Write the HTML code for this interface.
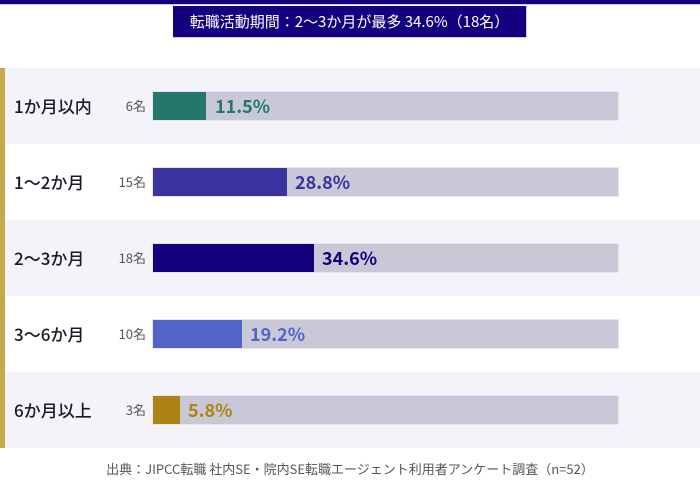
<!DOCTYPE html>
<html>
<head>
<meta charset="utf-8">
<style>
  html, body { margin:0; padding:0; }
  body { width:700px; height:498px; position:relative; background:#ffffff; overflow:hidden;
         font-family: "Liberation Sans", "Noto Sans CJK JP", sans-serif; }
  .topbar { position:absolute; left:0; top:0; width:700px; height:4px; background:#14007e; }
  .topline { position:absolute; left:0; top:4px; width:700px; height:1px; background:#c9c9e2; }
  .title { position:absolute; left:173px; top:6px; width:353px; height:31px; background:#14007e;
           border-right:1px solid #c9c9e2; border-bottom:1px solid #c9c9e2;
           color:#fff; font-size:15px; line-height:31px; text-align:center;
           font-family: "Noto Sans CJK JP", sans-serif; }
  .row { position:absolute; left:0; width:700px; height:76px; }
  .row.alt { background:#f3f3f9; }
  .gold { position:absolute; left:0; top:68px; width:5px; height:380px; background:#c9a84c; }
  .label { position:absolute; left:14px; top:0; height:76px; line-height:76px; font-size:17px; color:#1a1a2a;
           font-family: "Noto Sans CJK JP", sans-serif; font-weight:500; }
  .count { position:absolute; right:554px; top:0; height:76px; line-height:76px; font-size:13px; color:#555;
           font-family: "Noto Sans CJK JP", sans-serif; }
  .track { position:absolute; left:153px; top:24px; width:465px; height:28px; background:#c8c8d6;
           box-shadow: 0 0 0 1px #e6e6f0; }
  .bar { position:absolute; left:153px; top:24px; height:28px; }
  .pct { position:absolute; top:0; height:76px; line-height:76px; font-size:18px; font-weight:700;
         font-family: "Noto Sans CJK JP", sans-serif; }
  .foot { position:absolute; left:0; top:458px; width:700px; text-align:center; font-size:13px; color:#555;
          line-height:22px; font-family: "Noto Sans CJK JP", sans-serif; }
</style>
</head>
<body>
<div class="topbar"></div>
<div class="topline"></div>
<div class="title">転職活動期間：2〜3か月が最多 34.6%（18名）</div>

<div class="row alt" style="top:68px;">
  <div class="label">1か月以内</div>
  <div class="count">6名</div>
  <div class="track"></div>
  <div class="bar" style="width:53px;background:#23786a;"></div>
  <div class="pct" style="left:215px;color:#23786a;">11.5%</div>
</div>

<div class="row" style="top:144px;">
  <div class="label">1〜2か月</div>
  <div class="count">15名</div>
  <div class="track"></div>
  <div class="bar" style="width:134px;background:#3d33a0;"></div>
  <div class="pct" style="left:295px;color:#3d33a0;">28.8%</div>
</div>

<div class="row alt" style="top:220px;">
  <div class="label">2〜3か月</div>
  <div class="count">18名</div>
  <div class="track"></div>
  <div class="bar" style="width:161px;background:#14007e;"></div>
  <div class="pct" style="left:322px;color:#14007e;">34.6%</div>
</div>

<div class="row" style="top:296px;">
  <div class="label">3〜6か月</div>
  <div class="count">10名</div>
  <div class="track"></div>
  <div class="bar" style="width:89px;background:#5164c8;"></div>
  <div class="pct" style="left:250px;color:#5164c8;">19.2%</div>
</div>

<div class="row alt" style="top:372px;">
  <div class="label">6か月以上</div>
  <div class="count">3名</div>
  <div class="track"></div>
  <div class="bar" style="width:27px;background:#ad8314;"></div>
  <div class="pct" style="left:188px;color:#ad8314;">5.8%</div>
</div>

<div class="gold"></div>

<div class="foot">出典：JIPCC転職 社内SE・院内SE転職エージェント利用者アンケート調査（n=52）</div>
</body>
</html>
